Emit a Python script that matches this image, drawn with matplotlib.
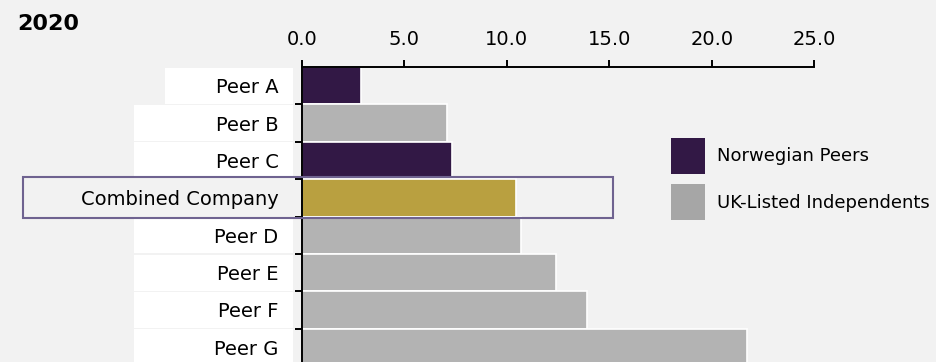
import matplotlib
matplotlib.use("Agg")
import matplotlib.pyplot as plt
from matplotlib.patches import Rectangle, Patch
from matplotlib.transforms import blended_transform_factory

# data (2020)
companies = ["Peer A", "Peer B", "Peer C", "Combined Company",
             "Peer D", "Peer E", "Peer F", "Peer G"]
values = [2.9, 7.1, 7.3, 10.45, 10.7, 12.4, 13.9, 21.7]
groups = ["nor", "uk", "nor", "comb", "uk", "uk", "uk", "uk"]
x_ticks = [0, 5, 10, 15, 20, 25]

colors = {"nor": "#321845", "uk": "#b3b3b3", "comb": "#b9a040"}
bg = "#f2f2f2"

W, H = 937, 362
fig = plt.figure(figsize=(W / 100, H / 100), dpi=100, facecolor=bg)

# axes box in pixels: x0 at 302, x=25 at 814, top at 67, bottom at 366
ax = fig.add_axes([302 / W, (H - 366) / H, (814.3 - 302) / W, (366 - 67) / H])
ax.set_facecolor("none")
ax.set_zorder(2)

rows = list(range(len(companies)))
ax.barh(rows, values, height=1.0, color=[colors[g] for g in groups],
        edgecolor="white", linewidth=1.2, zorder=2)

ax.set_xlim(0, 25)
ax.set_ylim(len(companies) - 0.5, -0.5)

# x axis on top
ax.xaxis.tick_top()
ax.set_xticks(x_ticks)
ax.set_xticklabels([f"{v:.1f}" for v in x_ticks])
ax.tick_params(axis="x", direction="out", length=5, width=1.4, pad=8,
               labelsize=14, colors="black")

# y labels at row centres, ticks at row boundaries
ax.set_yticks(rows)
ax.set_yticklabels(companies)
ax.set_yticks([r - 0.5 for r in rows[1:]], minor=True)
ax.tick_params(axis="y", which="major", length=0, pad=17, labelsize=14)
ax.tick_params(axis="y", which="minor", length=5, width=1.4)

for s in ["right", "bottom"]:
    ax.spines[s].set_visible(False)
ax.spines["top"].set_linewidth(1.4)
ax.spines["left"].set_linewidth(1.4)

# white label boxes behind the category names
tr = blended_transform_factory(fig.transFigure, ax.transData)
for r, name in zip(rows, companies):
    if name == "Combined Company":
        continue
    x0 = 165 if name == "Peer A" else 134
    fig.patches.append(Rectangle((x0 / W, r - 0.48), (293 - x0) / W, 0.96,
                                 transform=tr, facecolor="white",
                                 edgecolor="none", zorder=0))

# highlight box around the combined company row
ci = companies.index("Combined Company")
ax.add_patch(Rectangle((23 / W, ci - 0.55), (613 - 23) / W, 1.1,
                       transform=tr, facecolor="none", edgecolor="#6f6390",
                       linewidth=1.5, clip_on=False, zorder=5))

# legend
handles = [Patch(facecolor=colors["nor"], label="Norwegian Peers"),
           Patch(facecolor="#a6a6a6", label="UK-Listed Independents")]
fig.legend(handles=handles, loc="upper left",
           bbox_to_anchor=(671 / W, 1 - 138 / H), frameon=False,
           fontsize=13, handlelength=1.88, handleheight=2.65,
           handletextpad=0.66, labelspacing=0.6, borderpad=0,
           borderaxespad=0)

fig.text(17 / W, 1 - 30 / H, "2020", fontsize=16, fontweight="bold",
         va="baseline", ha="left")

fig.savefig("out.png", dpi=100, facecolor=bg)
